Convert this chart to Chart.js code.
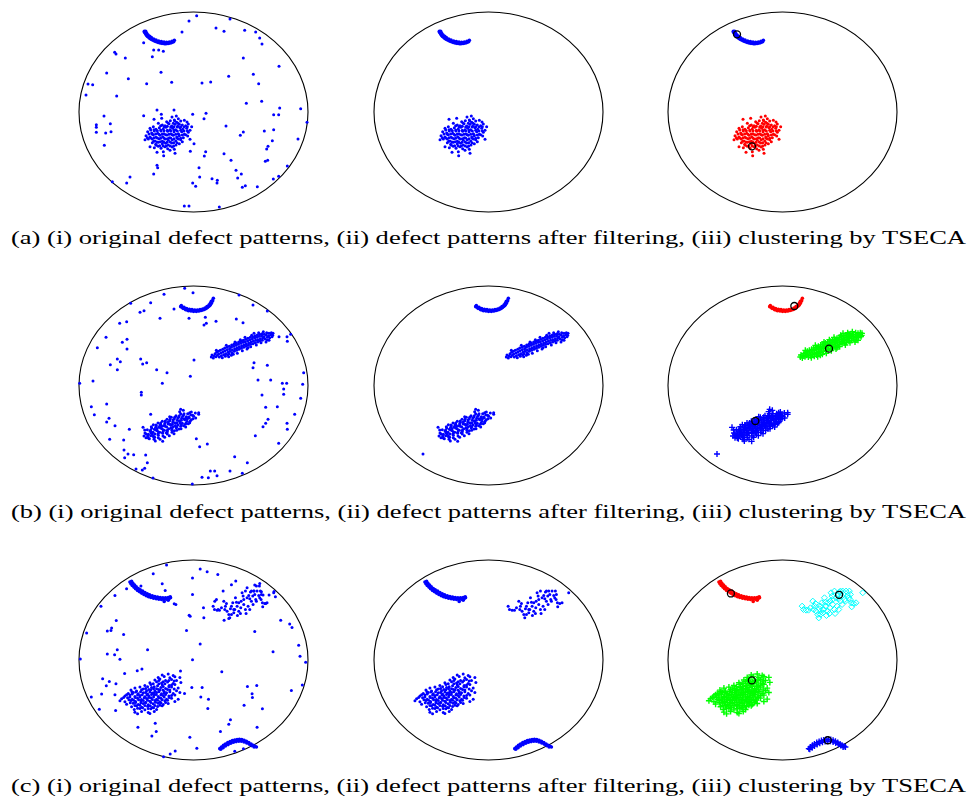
<!DOCTYPE html>
<html><head><meta charset="utf-8">
<script src="https://cdn.jsdelivr.net/npm/chart.js@4/dist/chart.umd.min.js"></script>
<style>
html,body{margin:0;padding:0;background:#fff;}
body{width:979px;height:802px;position:relative;overflow:hidden;}
canvas{position:absolute;}
.cap{position:absolute;left:11px;white-space:nowrap;font-family:"Liberation Serif","Times New Roman",Times,serif;font-size:19px;line-height:19px;color:#000;transform-origin:0 0;}
</style></head><body>
<script>
const captions = [
  "(a) (i) original defect patterns, (ii) defect patterns after filtering, (iii) clustering by TSECA",
  "(b) (i) original defect patterns, (ii) defect patterns after filtering, (iii) clustering by TSECA",
  "(c) (i) original defect patterns, (ii) defect patterns after filtering, (iii) clustering by TSECA"
];

// ---------------- wafer (a) ----------------
const aArc = [[209,80],[212,86],[216,92],[221,97],[227,102],[234,106],[242,110],[250,113],[258,115],[266,116],[274,117],[282,116],[290,114],[297,111],
 [213,80],[216,86],[220,91],[225,95],[230,99],[237,103],[244,106],[252,109],[260,111],[268,112],[276,113],[284,112],[292,110],[299,107],
 [210,83],[214,89],[218,95],[224,100],[230,104],[238,108],[246,111],[254,114],[262,116],[270,117],[278,116],[286,115],[294,112]];
const aCluster = [[292,337],[305,334],[299,346],[311,342],[318,349],[329,347],[337,352],[276,351],[287,348],[296,356],[306,353],[314,359],[251,356],[263,361],[271,363],[283,357],[291,364],[301,359],[309,365],[323,361],[333,363],[341,358],[351,366],
 [226,371],[236,366],[244,374],[254,369],[266,373],[274,368],[286,375],[294,371],[303,375],[316,369],[324,374],[336,371],[346,377],
 [219,381],[231,385],[239,379],[249,386],[259,379],[268,387],[279,380],[289,388],[298,381],[311,387],[321,381],[329,389],[341,383],
 [214,393],[226,397],[236,390],[244,398],[256,392],[264,396],[277,391],[284,399],[296,392],[306,397],[314,393],[326,399],[339,394],
 [211,405],[221,403],[233,403],[241,409],[253,402],[263,410],[271,403],[281,407],[293,405],[303,409],[311,403],[323,411],
 [233,414],[243,419],[251,413],[263,417],[273,416],[281,421],[291,415],[304,421],[314,417],
 [239,429],[251,425],[259,431],[271,426],[279,432],[293,427],[299,434],[266,441],[286,437],[301,446],[247,443],[267,453],[318,401],[226,426],[346,404],[238,344],[261,341],
 [228,376],[238,375],[248,378],[258,376],[268,378],[278,377],[288,379],[298,377],[308,379],[318,377],[328,379],[338,378],
 [223,388],[233,389],[243,388],[253,389],[263,388],[273,390],[283,389],[293,390],[303,389],[313,390],[323,391],[333,390],
 [218,399],[228,400],[238,399],[248,400],[258,401],[268,400],[278,402],[288,400],[298,402],[308,401],[318,405],
 [237,410],[247,412],[257,411],[267,412],[277,413],[287,412],[297,414],[307,414],[245,422],[255,423],[265,424],[275,424],[287,424],[297,424],
 [258,363],[268,366],[278,365],[288,367],[298,366],[308,367],[318,366],[328,367],[338,366],[280,355],[300,348],[310,356]];
const aNoise = [[366,33],[343,49],[466,43],[424,70],[448,80],[510,77],[543,82],[555,100],[562,118],[322,82],[207,114],[237,136],[252,136],[266,140],[233,156],[120,143],[124,148],[152,160],[506,160],[613,185],
 [96,205],[161,222],[259,203],[462,215],[536,209],[40,238],[54,240],[216,237],[291,233],[382,235],[408,232],[552,237],[34,271],[126,274],[515,296],[561,290],[615,310],[678,312],[697,353],[597,330],[612,330],
 [88,334],[207,333],[247,316],[260,329],[298,316],[354,329],[394,326],[388,342],[65,360],[65,368],[107,357],[65,383],[93,385],[109,381],[454,364],[506,382],[497,392],[569,379],[597,375],[593,408],[670,403],
 [89,422],[358,417],[347,440],[393,441],[389,454],[448,447],[469,467],[580,425],[576,433],[579,467],[572,470],[638,484],[247,482],[249,489],[373,489],[484,497],[500,508],[237,508],[166,517],[113,531],[156,535],
 [375,517],[412,522],[428,527],[427,535],[489,520],[354,535],[363,545],[596,523],[612,515],[503,548],[512,543],[548,546],[329,604],[343,604],[434,607]];
const aCenters = [[220,89],[265,425]];

// ---------------- wafer (b) ----------------
const bArc = [[318,80],[325,85],[333,89],[341,92],[349,93],[357,94],[365,94],[373,93],[381,91],[389,88],[396,84],[402,79],[407,74],[411,68],[414,62],
 [320,77],[328,82],[336,86],[344,88],[352,89],[360,90],[368,90],[376,89],[384,87],[391,84],[397,80],[403,75],[407,70],[410,64],
 [322,81],[330,86],[338,90],[346,91],[354,92],[362,92],[370,92],[378,91],[386,89],[393,86],[399,82],[405,77],[409,71],[416,55]];
const bBand = [[410,231],[412,225],[416,234],[418,228],[421,221],[424,230],[426,217],[428,226],[431,214],[432,222],[434,231],[437,211],[439,219],[440,227],[444,208],[445,216],[447,224],[450,204],[451,212],[453,221],[452,229],
 [457,202],[458,209],[460,217],[459,225],[464,199],[465,206],[466,214],[463,221],[471,195],[470,202],[473,210],[472,218],[478,192],[477,199],[480,206],[479,214],[485,189],[484,196],[487,203],[486,211],
 [492,186],[491,193],[494,200],[493,208],[499,183],[498,190],[501,197],[500,205],[506,181],[505,187],[508,194],[507,202],[513,178],[512,185],[515,192],[514,199],[520,175],[519,182],[522,189],[521,196],
 [527,172],[526,179],[529,186],[528,193],[534,170],[533,177],[536,184],[535,191],[541,167],[540,174],[543,181],[542,188],[548,165],[547,172],[550,179],[549,186],[555,163],[554,169],[557,176],[556,183],
 [562,161],[561,167],[564,174],[563,181],[569,163],[568,170],[571,177],[576,158],[575,165],[578,172],[577,180],[583,160],[582,167],[585,173],[590,158],[589,164],[592,170],[595,160],[594,166],[488,220],[545,195],[470,226],[520,203],
 [455,196],[481,186],[497,179],[511,172],[531,166],[552,158],[566,155],[443,233],[462,230],[476,223],[503,212],[528,200],[559,188],[574,186],[425,211],[517,207],[538,160],[583,181]];
const bBlob = [[236,434],[250,429],[263,424],[277,418],[290,412],[304,407],[318,401],[315,395],[326,391],
 [218,449],[231,444],[245,438],[258,433],[272,427],[285,422],[299,417],[312,412],[326,406],[339,401],[350,396],
 [211,459],[226,453],[239,448],[253,442],[267,437],[280,432],[294,426],[308,421],[321,415],[335,410],[348,405],[362,399],
 [208,468],[221,463],[235,457],[248,452],[262,446],[276,441],[289,436],[303,430],[316,425],[330,419],[344,414],[357,409],[372,403],
 [214,473],[228,467],[241,462],[255,457],[269,451],[282,446],[296,440],[310,435],[323,430],[337,424],[350,419],[363,414],
 [224,476],[237,471],[251,466],[264,460],[278,455],[291,450],[305,444],[318,439],[332,433],[345,428],
 [238,478],[251,473],[265,468],[278,462],[292,457],[306,451],[319,446],[333,441],
 [242,483],[256,478],[270,472],[284,467],[298,461],
 [230,440],[244,435],[258,429],[272,423],[286,418],[300,412],[314,407],[328,401],
 [214,462],[229,456],[243,450],[258,444],[272,439],[286,433],[300,428],[314,422],[328,416],[342,411],[354,406],
 [221,474],[236,468],[250,462],[264,457],[278,451],[292,446],[306,440],[320,435],[334,429],[346,424],
 [318,388],[372,398],[205,442],[210,450],[345,398],[264,484],
 [247,446],[261,439],[233,462],[275,458],[289,443],[302,437],[317,430],[281,426],[295,420],[309,414],[324,409],[338,416],[252,457],[266,450],[240,472],
 [228,450],[219,468],[299,452],[313,447],[327,437],[341,431],[355,416],[285,410],[270,431],[256,436],[243,442],[229,459],[293,433],[307,428],[320,421],[334,415]];
const bStray = [[160,522]];
const bNoise = [[330,25],[355,38],[268,43],[493,45],[168,70],[228,68],[535,75],[196,97],[208,92],[298,87],[578,93],[343,115],[392,112],[395,130],[388,135],[424,124],[485,117],[505,128],[256,115],[135,130],[156,125],
 [94,172],[143,187],[157,178],[157,207],[68,203],[613,170],[637,170],[638,184],[648,163],[128,237],[137,245],[198,237],[216,248],[204,252],[358,240],[107,254],[128,269],[246,269],[277,278],[538,248],[535,263],[578,256],
 [347,289],[55,303],[15,310],[263,310],[550,300],[588,300],[623,310],[636,310],[627,327],[684,313],[687,278],[200,337],[200,345],[562,345],[627,343],[678,355],[96,372],[50,380],[573,382],[608,380],[660,403],[59,404],
 [96,426],[103,415],[121,437],[164,448],[228,403],[365,476],[375,500],[398,492],[542,467],[565,440],[573,430],[580,418],[637,430],[638,448],[612,490],[105,478],[147,480],[148,510],[177,524],[213,525],[150,533],
 [218,548],[210,565],[203,570],[184,567],[235,594],[353,612],[382,592],[401,593],[407,573],[420,573],[427,587],[466,573],[480,530],[503,580],[518,548]];
const bCenters = [[392,78],[496,206],[275,423]];

// ---------------- wafer (c) ----------------
const cArcTop = [[165,68],[168,73],[172,78],[177,83],[182,88],[188,93],[194,97],[200,101],[207,105],[214,109],[221,112],[228,114],[236,116],[244,118],[252,119],[260,120],[268,120],[276,119],[283,117],[287,115],
 [170,66],[174,72],[179,77],[184,82],[190,87],[196,91],[203,95],[210,99],[217,103],[224,106],[232,109],[240,111],[248,113],[256,114],[264,115],[272,115],[280,114],[286,112],[268,126],[280,122]];
const cBlobTR = [[415,140],[419,150],[427,152],[434,152],[447,125],[452,140],[450,150],[457,155],[462,165],[465,175],[470,140],[474,130],[477,150],[482,115],[485,128],[487,140],[492,155],[497,162],[502,100],[499,125],
 [507,135],[512,150],[514,162],[517,115],[522,108],[527,98],[530,125],[534,110],[537,95],[540,105],[543,120],[547,95],[552,108],[557,95],[559,120],[563,130],[564,142],[570,132],[577,130],[535,135],[525,150],[507,120],
 [492,130],[477,160],[597,100],[505,110],[512,95],[525,118],[545,125],[555,115],[520,140],[498,145],[480,150],[470,165],[488,168],[530,95],[560,105],[440,145],[455,132],[467,148]];
const cBlobBL = [[262,346],[280,343],[295,347],[250,353],[268,350],[285,354],[300,351],[315,353],[240,361],[255,358],[272,362],[290,359],[305,362],[225,369],[245,366],[260,370],[278,367],[295,371],[318,368],
 [210,377],[228,374],[248,378],[262,375],[283,377],[300,374],[180,385],[195,382],[212,386],[230,383],[245,387],[258,383],[272,386],[290,382],[310,385],
 [168,391],[185,394],[200,390],[215,393],[228,390],[240,394],[255,391],[268,395],[285,391],[305,393],[160,401],[175,398],[190,402],[205,399],[218,403],[232,400],[245,398],[260,402],[275,399],[295,401],[315,398],
 [150,409],[165,406],[180,410],[195,407],[210,411],[222,408],[238,406],[250,410],[265,407],[282,409],[300,406],[140,417],[158,414],[172,418],[188,415],[200,419],[215,416],[228,414],[245,418],[258,415],[275,418],[290,415],[310,418],
 [135,423],[150,426],[168,422],[182,425],[198,423],[212,427],[225,424],[240,422],[255,426],[270,423],[300,425],[155,433],[175,430],[190,434],[205,431],[220,435],[235,432],[250,430],[265,434],[280,431],
 [170,441],[185,438],[200,442],[218,439],[232,443],[248,440],[262,438],[178,449],[195,446],[210,450],[228,447],[245,449],[180,457],[200,455],[220,458],[238,455],[188,462],[225,461],
 [205,388],[222,389],[236,387],[251,389],[264,391],[278,389],[298,388],[171,396],[183,397],[197,396],[212,398],[225,397],[238,399],[252,396],[268,399],[285,396],
 [155,405],[172,403],[188,406],[202,405],[216,406],[230,404],[244,404],[258,406],[272,404],[290,407],[146,413],[165,412],[181,413],[195,412],[208,414],[222,413],[236,412],[252,414],[268,412],[283,413],
 [162,420],[176,421],[191,420],[205,422],[218,421],[232,419],[248,421],[262,420],[278,421],[166,429],[182,428],[198,429],[212,429],[228,428],[242,427],[258,429],[272,428],
 [180,437],[195,436],[210,437],[226,438],[240,437],[255,436],[188,445],[203,444],[220,446],[236,444],[252,362],[265,366],[282,362],[298,364],[235,372],[252,372],[270,372],[290,376],[218,381],[238,381],[265,380],[282,381]];
const cArcBot = [[435,566],[440,561],[446,556],[452,552],[459,548],[466,545],[473,542],[480,540],[487,539],[494,538],[501,539],[508,541],[515,544],[522,548],[529,552],[535,556],[541,559],[545,561],
 [438,568],[445,563],[452,558],[460,554],[468,550],[476,547],[484,545],[492,544],[500,544],[508,546],[516,549],[524,553],[531,557],[538,561]];
const cNoise = [[275,17],[235,43],[376,29],[397,37],[429,45],[353,56],[262,73],[271,93],[198,80],[155,88],[120,108],[353,105],[298,133],[303,135],[78,140],[386,145],[387,175],[343,167],[346,170],[124,183],
 [97,214],[108,213],[110,205],[35,220],[146,225],[335,213],[540,216],[618,182],[645,193],[652,204],[376,253],[127,270],[218,270],[97,283],[119,285],[135,299],[16,298],[353,300],[595,276],[672,257],[676,290],[693,308],
 [149,341],[187,333],[201,328],[317,334],[441,336],[83,357],[94,378],[103,365],[123,372],[80,403],[49,412],[120,405],[73,448],[122,452],[351,383],[382,383],[378,412],[401,418],[399,446],[329,401],[518,380],[546,377],
 [532,402],[533,413],[508,436],[563,447],[650,392],[683,376],[467,480],[462,493],[241,490],[189,502],[244,515],[231,528],[345,532],[437,515],[547,502],[366,565],[301,573],[286,582],[266,590],[480,574],[506,566],
 [483,65],[470,76],[445,95],[517,85],[538,95],[555,72],[554,80],[560,97],[565,107],[573,132],[448,182],[462,177],[598,96],[602,112],[583,107],[545,80],[420,125],[425,120],[430,150],[540,77]];
const cCenters = [[201,102],[526,106],[264,362],[492,541]];

// ---------------- layout ----------------
const colLeft = [79, 374, 668];
const rowTop = [12, 286, 560];
const rowH = [200, 199, 200];
const boxW = 229, PAD = 8;
const xRange = [[13,700],[13,700],[12,700]];
const yRange = [[22,622],[18,615],[2,600]];

const BLUE='rgb(0,0,255)', RED='rgb(255,0,0)', GREEN='rgb(0,255,0)', CYAN='rgb(0,255,255)';
const pts = a => a.map(([x,y]) => ({x, y}));
const dots = (a, c, r) => ({data: pts(a), pointStyle:'circle', pointRadius: r||1.5, backgroundColor:c, borderColor:c, borderWidth:0, clip:false});
const crosses = (a, c) => ({data: pts(a), pointStyle:'cross', pointRadius:3, borderColor:c, backgroundColor:c, borderWidth:1.4, clip:false});
const diamonds = (a, c) => ({data: pts(a), pointStyle:'rectRot', pointRadius:3, borderColor:c, backgroundColor:'rgba(0,0,0,0)', borderWidth:1, clip:false});
const ctrs = a => ({data: pts(a), pointStyle:'circle', pointRadius:3.5, borderColor:'#000', backgroundColor:'rgba(0,0,0,0)', borderWidth:1.3, clip:false});

const panels = [
  [[dots(aArc,BLUE,1.8), dots(aCluster,BLUE), dots(aNoise,BLUE)],
   [dots(aArc,BLUE,1.8), dots(aCluster,BLUE)],
   [ctrs(aCenters), dots(aArc,BLUE,1.8), dots(aCluster,RED)]],
  [[dots(bArc,BLUE,1.8), dots(bBand,BLUE), dots(bBlob,BLUE), dots(bStray,BLUE), dots(bNoise,BLUE)],
   [dots(bArc,BLUE,1.8), dots(bBand,BLUE), dots(bBlob,BLUE), dots(bStray,BLUE)],
   [ctrs(bCenters), dots(bArc,RED,1.8), crosses(bBand,GREEN), crosses(bBlob,BLUE), crosses(bStray,BLUE)]],
  [[dots(cArcTop,BLUE,1.8), dots(cBlobTR,BLUE), dots(cBlobBL,BLUE), dots(cArcBot,BLUE,1.8), dots(cNoise,BLUE)],
   [dots(cArcTop,BLUE,1.8), dots(cBlobTR,BLUE), dots(cBlobBL,BLUE), dots(cArcBot,BLUE,1.8)],
   [ctrs(cCenters), dots(cArcTop,RED,1.8), diamonds(cBlobTR,CYAN), crosses(cBlobBL,GREEN), crosses(cArcBot,BLUE)]]
];

const wafer = {
  id: 'wafer',
  beforeDatasetsDraw(chart) {
    const {ctx, scales:{x, y}} = chart;
    const x0 = x.getPixelForValue(x.min), x1 = x.getPixelForValue(x.max);
    const y0 = y.getPixelForValue(y.min), y1 = y.getPixelForValue(y.max);
    ctx.save();
    ctx.beginPath();
    ctx.ellipse((x0+x1)/2, (y0+y1)/2, Math.abs(x1-x0)/2, Math.abs(y1-y0)/2, 0, 0, 2*Math.PI);
    ctx.strokeStyle = '#000';
    ctx.lineWidth = 1.1;
    ctx.stroke();
    ctx.restore();
  }
};

panels.forEach((row, r) => {
  row.forEach((datasets, c) => {
    const cv = document.createElement('canvas');
    cv.width = boxW + 2*PAD;
    cv.height = rowH[r] + 2*PAD;
    cv.style.left = (colLeft[c] - PAD) + 'px';
    cv.style.top = (rowTop[r] - PAD) + 'px';
    cv.style.width = cv.width + 'px';
    cv.style.height = cv.height + 'px';
    document.body.appendChild(cv);
    new Chart(cv, {
      type: 'scatter',
      data: {datasets},
      options: {
        responsive: false, animation: false, devicePixelRatio: 1, events: [],
        layout: {padding: PAD},
        plugins: {legend:{display:false}, tooltip:{enabled:false}},
        scales: {
          x: {type:'linear', display:false, min:xRange[r][0], max:xRange[r][1]},
          y: {type:'linear', display:false, min:yRange[r][0], max:yRange[r][1], reverse:true}
        }
      },
      plugins: [wafer]
    });
  });
});

const capTops = [228, 502, 776];
captions.forEach((t, i) => {
  const d = document.createElement('div');
  d.className = 'cap';
  d.textContent = t;
  d.style.top = capTops[i] + 'px';
  document.body.appendChild(d);
  const w = d.getBoundingClientRect().width;
  d.style.transform = 'scaleX(' + (955 / w) + ')';
});
</script>
</body></html>
